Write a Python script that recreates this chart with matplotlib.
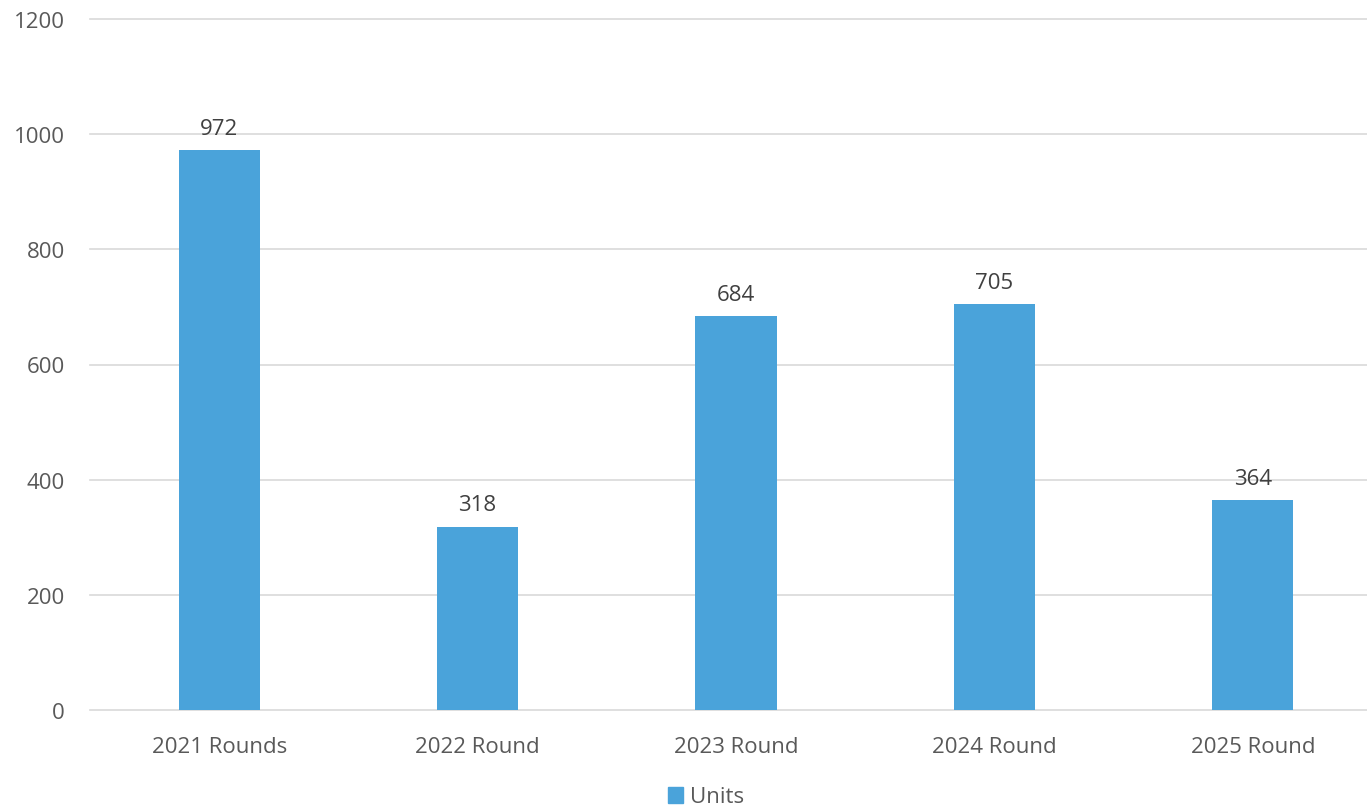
import matplotlib
matplotlib.use('Agg')
import matplotlib.pyplot as plt
from matplotlib.patches import Patch

categories = ['2021 Rounds', '2022 Round', '2023 Round', '2024 Round', '2025 Round']
units = [972, 318, 684, 705, 364]
y_ticks = [0, 200, 400, 600, 800, 1000, 1200]

bar_color = '#4AA3DA'
plt.rcParams['font.family'] = ['Open Sans', 'DejaVu Sans']

fig = plt.figure(figsize=(13.67, 8.12), dpi=100)
ax = fig.add_axes([90 / 1367, 1 - 711 / 812, 1292 / 1367, 691 / 812])

x = range(len(categories))
bars = ax.bar(x, units, width=0.315, color=bar_color, zorder=3)

for b, v in zip(bars, units):
    ax.text(b.get_x() + b.get_width() / 2, v + 20, str(v), ha='center', va='bottom',
            fontsize=16, color='#404040')

ax.set_xlim(-0.5, len(categories) - 0.5)
ax.set_ylim(0, 1200)
ax.set_yticks(y_ticks)
ax.set_xticks(list(x))
ax.set_xticklabels(categories)
ax.tick_params(axis='both', length=0, labelsize=16, labelcolor='#595959')
ax.tick_params(axis='x', pad=18.5)
ax.tick_params(axis='y', pad=18)
ax.yaxis.grid(True, color='#D9D9D9', linewidth=1.2, zorder=0)
for gl in ax.get_ygridlines():
    gl.set_clip_on(False)
for s in ax.spines.values():
    s.set_visible(False)

fig.legend(handles=[Patch(color=bar_color, label='Units')], loc='center',
           bbox_to_anchor=(706 / 1367, 1 - 798 / 812), frameon=False, fontsize=16,
           handlelength=0.7, handleheight=0.7, handletextpad=0.3, labelcolor='#595959')

fig.savefig('out.png', dpi=100, facecolor='white')
